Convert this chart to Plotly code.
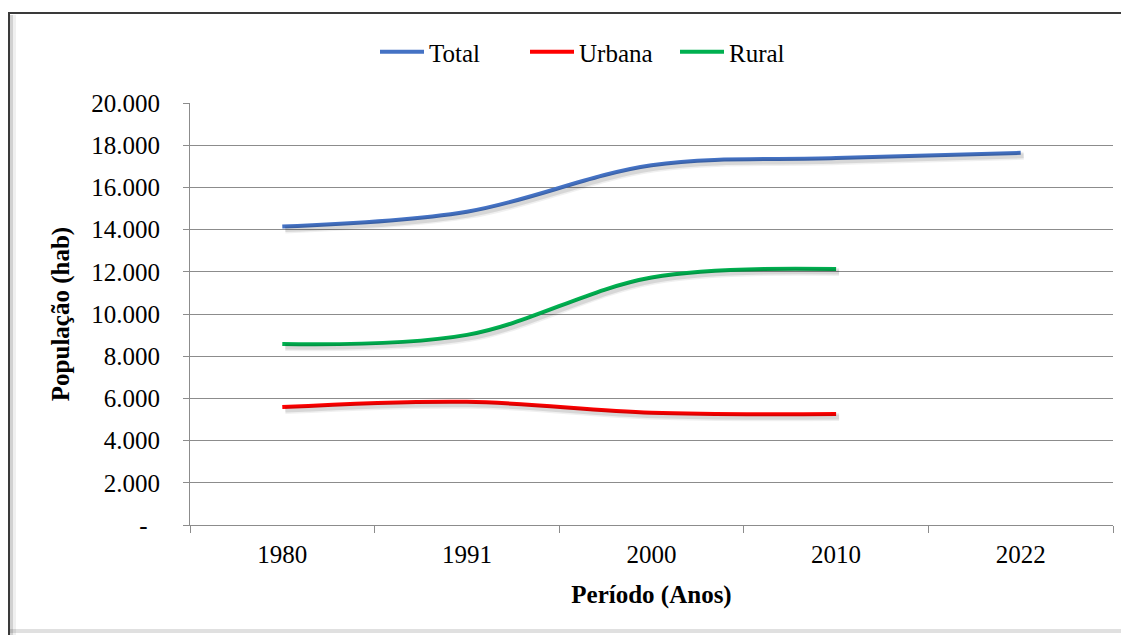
import plotly.graph_objects as go

# ---- data ----
anos = ["1980", "1991", "2000", "2010", "2022"]
total = [14150, 14850, 17050, 17390, 17640]
urbana = [5590, 5840, 5320, 5260]
rural = [8580, 9010, 11730, 12130]
y_tick_vals = [0, 2000, 4000, 6000, 8000, 10000, 12000, 14000, 16000, 18000, 20000]
y_tick_text = ["-\u00a0\u00a0", "2.000", "4.000", "6.000", "8.000", "10.000",
               "12.000", "14.000", "16.000", "18.000", "20.000"]

series = [
    ("Total", total, "#4472C4"),
    ("Urbana", urbana, "#FF0000"),
    ("Rural", rural, "#00B050"),
]

# ---- layout geometry (px, page coordinates; page body has an 8px margin) ----
OFF = 8
W, H = 1129 - OFF, 635 - OFF
PL, PR, PT, PB = 190, 1113, 103, 525          # plot area in page px
L, R, T, B = PL - OFF, W - (PR - OFF), PT - OFF, H - (PB - OFF)
PW, PH = PR - PL, PB - PT

def px_x(p):
    return (p - PL) / PW

def px_y(p):
    return (PB - p) / PH

FONT = "Liberation Serif"
fig = go.Figure()

# shadows (drawn on an invisible numeric overlay axis)
sh_dx = 3 / (PW / len(anos))
sh_dy = 3 * 20000 / PH
for name, vals, color in series:
    for w, a in [(8, 0.06), (5, 0.10)]:
        fig.add_trace(go.Scatter(
            x=[i + sh_dx for i in range(len(vals))],
            y=[v - sh_dy for v in vals],
            mode="lines", xaxis="x2",
            line=dict(color=f"rgba(0,0,0,{a})", width=w, shape="spline", smoothing=1.0),
            showlegend=False, hoverinfo="skip"))

for name, vals, color in series:
    fig.add_trace(go.Scatter(
        x=anos[:len(vals)], y=vals, name=name, mode="lines",
        line=dict(color=color, width=4, shape="spline", smoothing=1.0)))

grid = "#8C8C8C"
fig.update_layout(
    width=W, height=H,
    margin=dict(l=L, r=R, t=T, b=B, autoexpand=False),
    paper_bgcolor="white", plot_bgcolor="white",
    font=dict(family=FONT, size=25, color="black"),
    showlegend=True,
    legend=dict(orientation="h", x=px_x(375), y=px_y(52), xanchor="left", yanchor="middle",
                font=dict(family=FONT, size=25, color="black"),
                itemwidth=44, entrywidth=91, entrywidthmode="pixels",
                bgcolor="rgba(0,0,0,0)", tracegroupgap=0),
    xaxis=dict(type="category", categoryorder="array", categoryarray=anos,
               range=[-0.5, len(anos) - 0.5],
               tickson="boundaries", ticks="outside", ticklen=7, tickcolor=grid,
               showline=True, linecolor=grid, linewidth=1,
               showgrid=False, zeroline=False, ticklabelstandoff=7,
               tickfont=dict(family=FONT, size=25),
               title=dict(text="<b>Período (Anos)</b>", standoff=18,
                          font=dict(family=FONT, size=25))),
    xaxis2=dict(overlaying="x", range=[-0.5, len(anos) - 0.5], visible=False),
    yaxis=dict(range=[0, 20000], tickvals=y_tick_vals, ticktext=y_tick_text,
               ticks="outside", ticklen=6, tickcolor=grid,
               showline=True, linecolor=grid, linewidth=1,
               showgrid=True, gridcolor=grid, gridwidth=1, zeroline=False,
               ticklabelstandoff=18,
               tickfont=dict(family=FONT, size=25),
               title=dict(text="<b>População (hab)</b>", standoff=14,
                          font=dict(family=FONT, size=25))),
    shapes=[
        # outer chart border (cropped at right/bottom)
        dict(type="line", xref="paper", yref="paper", x0=px_x(9), x1=px_x(9),
             y0=px_y(13), y1=px_y(645), line=dict(color="#3A3A3A", width=2)),
        dict(type="line", xref="paper", yref="paper", x0=px_x(8), x1=px_x(1140),
             y0=px_y(13), y1=px_y(13), line=dict(color="#3A3A3A", width=2)),
        dict(type="line", xref="paper", yref="paper", x0=px_x(11.5), x1=px_x(11.5),
             y0=px_y(15), y1=px_y(645), line=dict(color="rgba(0,0,0,0.18)", width=3)),
        dict(type="line", xref="paper", yref="paper", x0=px_x(14.5), x1=px_x(14.5),
             y0=px_y(15), y1=px_y(645), line=dict(color="rgba(0,0,0,0.06)", width=3)),
        dict(type="line", xref="paper", yref="paper", x0=px_x(10), x1=px_x(1140),
             y0=px_y(631), y1=px_y(631), line=dict(color="rgba(0,0,0,0.12)", width=4)),
    ],
)

fig.write_html("out.html")
